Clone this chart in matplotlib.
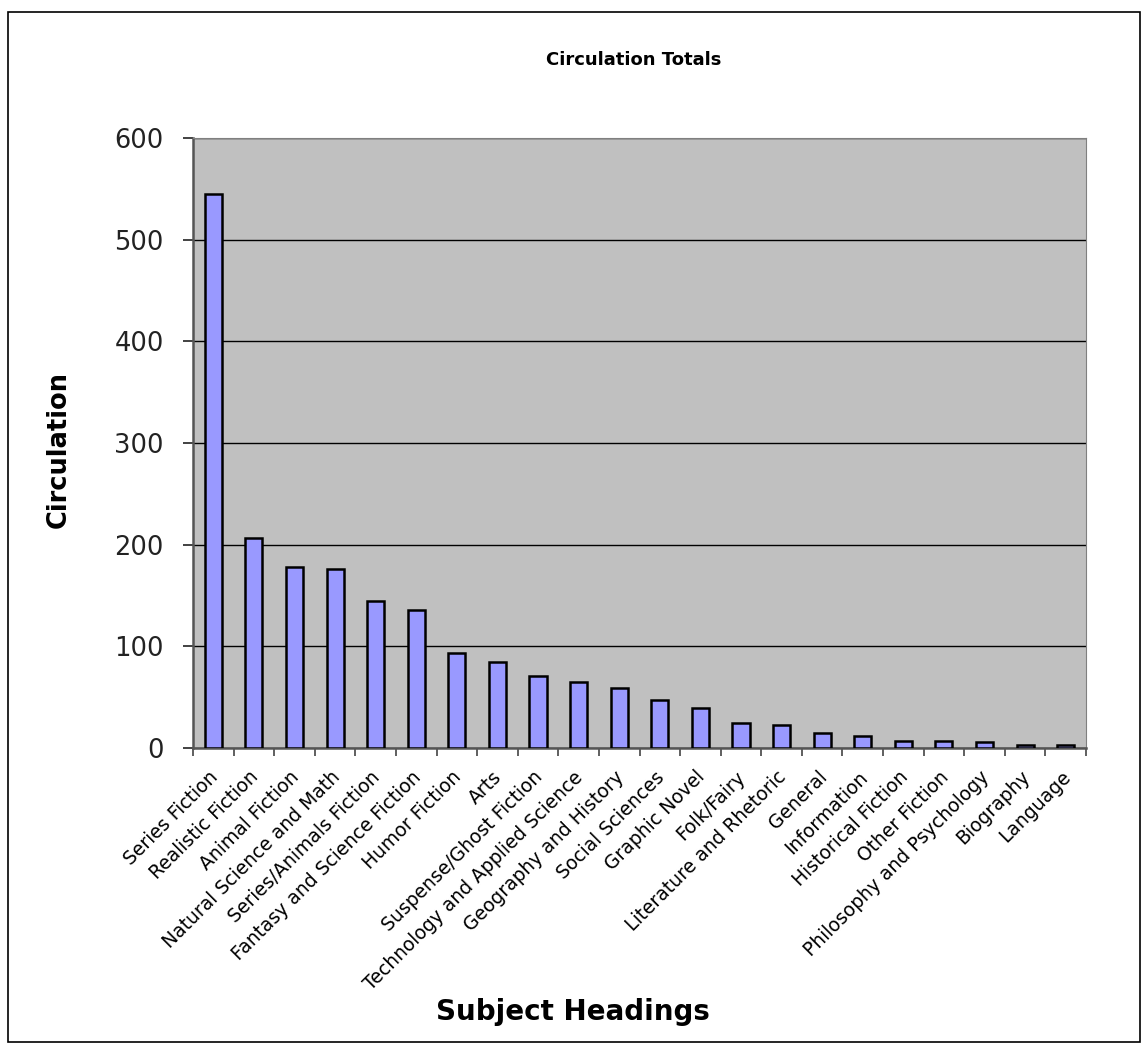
import numpy as np
import matplotlib.pyplot as plt
import matplotlib.transforms as mtransforms
from matplotlib.patches import Rectangle

# data
categories = ['Series Fiction', 'Realistic Fiction', 'Animal Fiction',
              'Natural Science and Math', 'Series/Animals Fiction',
              'Fantasy and Science Fiction', 'Humor Fiction', 'Arts',
              'Suspense/Ghost Fiction', 'Technology and Applied Science',
              'Geography and History', 'Social Sciences', 'Graphic Novel',
              'Folk/Fairy', 'Literature and Rhetoric', 'General', 'Information',
              'Historical Fiction', 'Other Fiction', 'Philosophy and Psychology',
              'Biography', 'Language']
circulation = [545, 207, 178, 176, 145, 136, 93, 85, 71, 65, 59, 47, 39,
               25, 23, 15, 12, 7, 7, 6, 3, 3]
y_ticks = [0, 100, 200, 300, 400, 500, 600]

plt.rcParams['font.family'] = ['DejaVu Sans']

fig = plt.figure(figsize=(11.48, 10.51), dpi=100)
W, H = 1148, 1051
ax = fig.add_axes([193 / W, 1 - 748 / H, (1086 - 193) / W, (748 - 138) / H])

# outer chart border
fig.patches.append(Rectangle((8 / W, 1 - 1042 / H), 1132 / W, 1030 / H,
                             transform=fig.transFigure, fill=False,
                             edgecolor='black', linewidth=1.2))

x = np.arange(len(categories))
ax.set_facecolor('#C0C0C0')
ax.bar(x, circulation, width=0.42, color='#9999FF', edgecolor='black',
       linewidth=1.8, zorder=3)

ax.set_xlim(-0.5, len(categories) - 0.5)
ax.set_ylim(0, 600)
ax.set_yticks(y_ticks)
ax.set_yticklabels([str(v) for v in y_ticks], fontsize=18.5)
ax.yaxis.grid(True, color='black', linewidth=1.0, zorder=1)
ax.tick_params(axis='y', direction='out', length=7, width=1.2, pad=14,
               colors='#222222')

ax.set_xticks(x)
ax.set_xticklabels(categories, rotation=45, ha='right', rotation_mode='anchor',
                   fontsize=13.5)
ax.tick_params(axis='x', which='major', length=0, pad=14)
# nudge labels a little left, like the excel layout
offset = mtransforms.ScaledTranslation(-5 / 100, 0, fig.dpi_scale_trans)
for lbl in ax.get_xticklabels():
    lbl.set_transform(lbl.get_transform() + offset)
ax.set_xticks(np.arange(-0.5, len(categories)), minor=True)
ax.tick_params(axis='x', which='minor', direction='out', length=6, width=1.2,
               color='#444444')

for side in ['top', 'right']:
    ax.spines[side].set_color('#808080')
for side in ['left', 'bottom']:
    ax.spines[side].set_color('#555555')
    ax.spines[side].set_linewidth(1.8)

fig.text(634 / W, 1 - 60 / H, 'Circulation Totals', ha='center', va='center',
         fontsize=13, fontweight='bold')
fig.text(59 / W, 1 - 449 / H, 'Circulation', ha='center', va='center',
         rotation=90, fontsize=18.5, fontweight='bold')
fig.text(573 / W, 1 - 1012 / H, 'Subject Headings', ha='center', va='center',
         fontsize=20, fontweight='bold')

fig.savefig('out.png', dpi=100, facecolor='white')
